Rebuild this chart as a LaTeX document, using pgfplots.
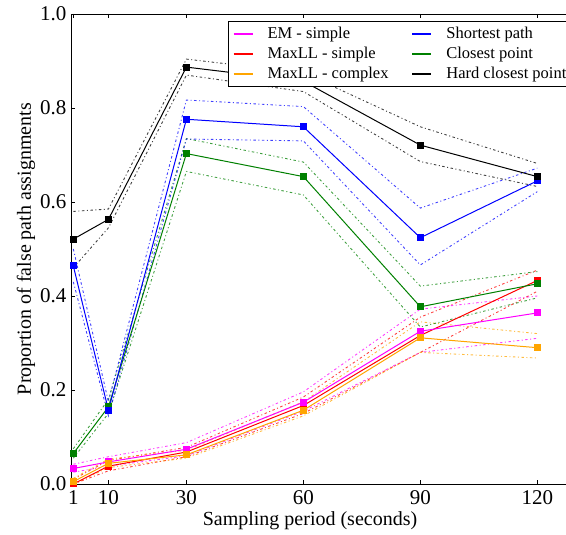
\documentclass[border=0pt]{standalone}
\usepackage{pgfplots}
\pgfplotsset{compat=1.18}
\usepackage{fontspec}
\setmainfont{Liberation Serif}
\usetikzlibrary{calc}
\definecolor{morange}{RGB}{255,165,0}
\definecolor{mgreen}{RGB}{0,128,0}
\definecolor{mmag}{RGB}{255,0,255}
\definecolor{mred}{RGB}{255,0,0}
\definecolor{mblue}{RGB}{0,0,255}
\begin{document}
\begin{tikzpicture}
\begin{axis}[
  name=ax,
  scale only axis,
  width=505.3pt, height=470pt,
  xmin=0.4, xmax=130, ymin=0, ymax=1,
  xtick={1,10,30,60,90,120},
  ytick={0,0.2,0.4,0.6,0.8,1.0},
  yticklabel style={/pgf/number format/fixed,/pgf/number format/fixed zerofill,/pgf/number format/precision=1},
  /pgf/number format/assume math mode=true,
  tick label style={font=\fontsize{21}{24}\selectfont},
  xticklabel style={yshift=-3pt},
  yticklabel style={xshift=-1pt},
  label style={font=\fontsize{20}{24}\selectfont},
  xlabel={Sampling period (seconds)},
  ylabel={Proportion of false path assignments},
  xlabel style={at={(axis description cs:0.473,-0.079)}, anchor=center},
  ylabel style={at={(axis description cs:-0.089,0.5)}, anchor=center},
  axis line style={line width=0.8pt},
  major tick style={line width=0.6pt, black},
  tick align=inside,
  clip=false,
  legend columns=2,
  legend cell align=left,
  legend style={at={(rel axis cs:0.3115,0.985)}, anchor=north west, draw=black, line width=0.8pt,
    font=\fontsize{16.5}{19}\selectfont, row sep=3pt, inner xsep=4pt, inner ysep=4pt,
    /tikz/every odd column/.append style={column sep=12pt},
    /tikz/every even column/.append style={column sep=21pt}},
  legend image code/.code={\path[draw, #1] (0pt,0pt) -- (19pt,0pt);},
  every axis plot/.append style={line width=1pt},
  band/.style={line width=0.9pt, opacity=0.75, dash pattern=on 2.5pt off 2.5pt on 1pt off 2.5pt, forget plot},
  main/.style={line width=1pt, mark=square*, mark size=3pt, mark options={draw=black!80, line width=0.5pt, solid}, forget plot},
]
% ---- bands ----
\addplot[band, mred] coordinates {(1,0.01) (10,0.05) (30,0.078) (60,0.185) (90,0.355) (120,0.455)};
\addplot[band, mred] coordinates {(1,0.0) (10,0.028) (30,0.058) (60,0.15) (90,0.28) (120,0.41)};
\addplot[band, mmag] coordinates {(1,0.042) (10,0.058) (30,0.088) (60,0.196) (90,0.372) (120,0.40)};
\addplot[band, mmag] coordinates {(1,0.025) (10,0.038) (30,0.06) (60,0.155) (90,0.28) (120,0.31)};
\addplot[band, morange] coordinates {(1,0.012) (10,0.053) (30,0.072) (60,0.175) (90,0.345) (120,0.32)};
\addplot[band, morange] coordinates {(1,0.0) (10,0.035) (30,0.055) (60,0.145) (90,0.28) (120,0.268)};
\addplot[band, mgreen] coordinates {(1,0.075) (10,0.18) (30,0.735) (60,0.685) (90,0.421) (120,0.452)};
\addplot[band, mgreen] coordinates {(1,0.055) (10,0.15) (30,0.665) (60,0.615) (90,0.334) (120,0.396)};
\addplot[band, mblue] coordinates {(1,0.50) (10,0.175) (30,0.817) (60,0.803) (90,0.587) (120,0.672)};
\addplot[band, mblue] coordinates {(1,0.43) (10,0.145) (30,0.734) (60,0.73) (90,0.466) (120,0.622)};
\addplot[band, black] coordinates {(1,0.58) (10,0.585) (30,0.904) (60,0.875) (90,0.760) (120,0.682)};
\addplot[band, black] coordinates {(1,0.46) (10,0.545) (30,0.870) (60,0.835) (90,0.686) (120,0.633)};
% ---- main series ----
\addplot[main, mred, mark options={fill=mred}] coordinates {(1,0.0) (10,0.038) (30,0.068) (60,0.167) (90,0.316) (120,0.433)};
\addplot[main, mmag, mark options={fill=mmag}] coordinates {(1,0.033) (10,0.047) (30,0.074) (60,0.174) (90,0.325) (120,0.364)};
\addplot[main, morange, mark options={fill=morange}] coordinates {(1,0.005) (10,0.044) (30,0.062) (60,0.157) (90,0.311) (120,0.290)};
\addplot[main, mgreen, mark options={fill=mgreen}] coordinates {(1,0.065) (10,0.164) (30,0.703) (60,0.654) (90,0.377) (120,0.426)};
\addplot[main, mblue, mark options={fill=mblue}] coordinates {(1,0.464) (10,0.157) (30,0.776) (60,0.760) (90,0.524) (120,0.645)};
\addplot[main, black, mark options={fill=black}] coordinates {(1,0.521) (10,0.563) (30,0.887) (60,0.857) (90,0.721) (120,0.654)};
% ---- legend ----
\addlegendimage{draw=mmag, line width=1.8pt}
\addlegendentry{EM - simple}
\addlegendimage{draw=mblue, line width=1.8pt}
\addlegendentry{Shortest path}
\addlegendimage{draw=mred, line width=1.8pt}
\addlegendentry{MaxLL - simple}
\addlegendimage{draw=mgreen, line width=1.8pt}
\addlegendentry{Closest point}
\addlegendimage{draw=morange, line width=1.8pt}
\addlegendentry{MaxLL - complex}
\addlegendimage{draw=black, line width=1.8pt}
\addlegendentry{Hard closest point}
\end{axis}
\pgfresetboundingbox
\path[use as bounding box] ($(ax.south west)+(-71pt,-51pt)$) rectangle ($(ax.north west)+(495pt,14pt)$);
\end{tikzpicture}
\end{document}
